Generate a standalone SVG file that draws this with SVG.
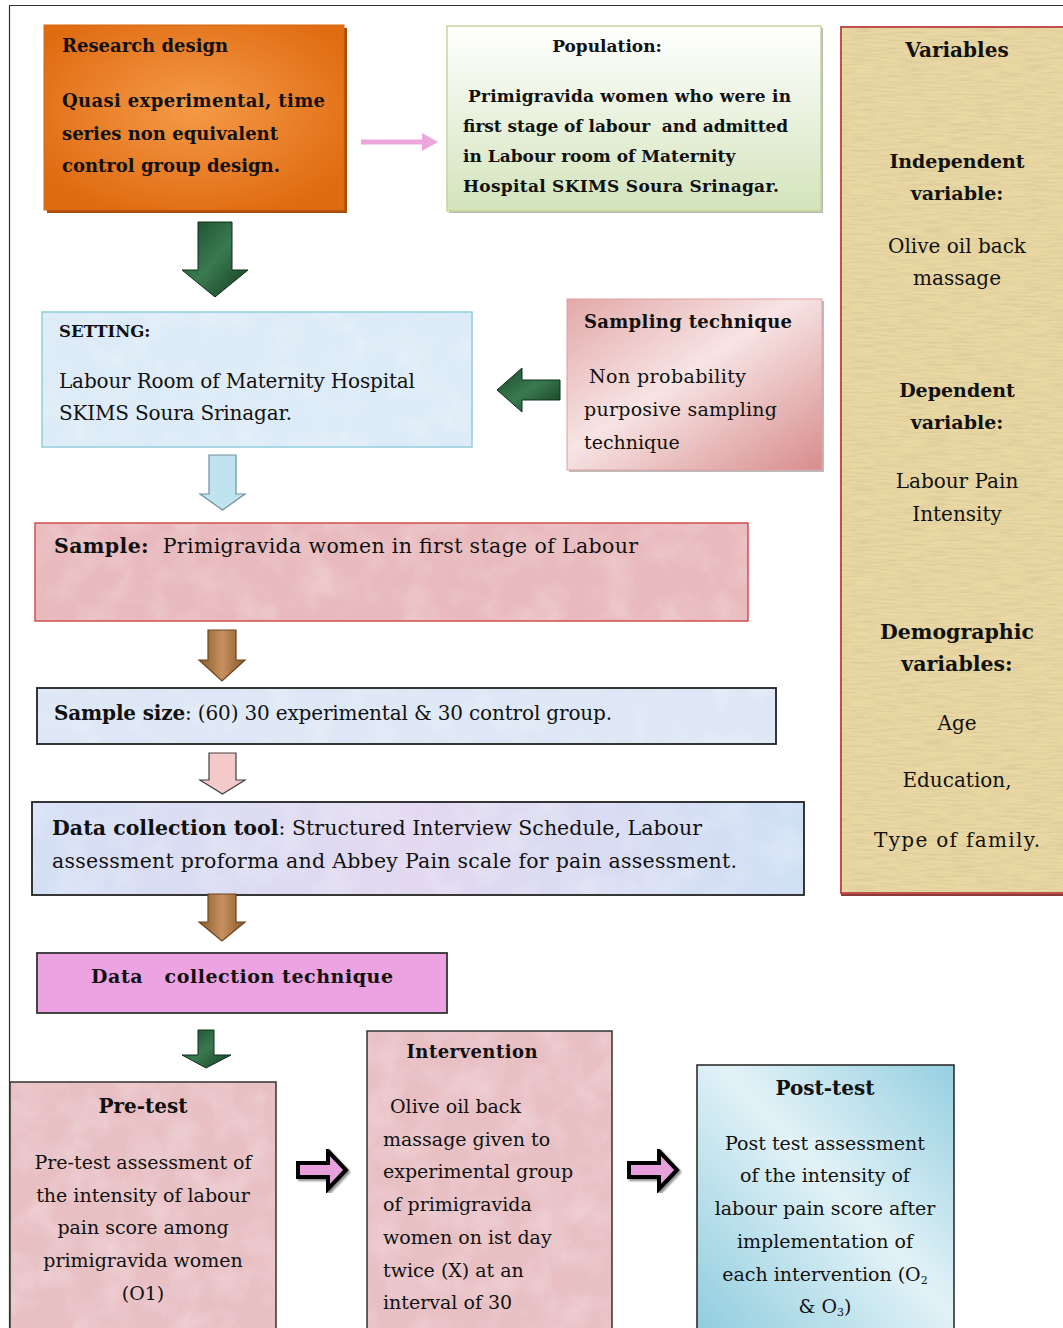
<svg xmlns="http://www.w3.org/2000/svg" width="1063" height="1328" viewBox="0 0 1063 1328">
<style>
text{font-family:"DejaVu Serif","Liberation Serif",serif;fill:#111;}
.b{font-weight:bold;}
.t17{font-size:17px;}
.t18{font-size:18px;}
.t19{font-size:19px;}
.t20{font-size:20px;}
.c{text-anchor:middle;}
</style>
<defs>
<radialGradient id="gOrange" cx="0.5" cy="0.45" r="0.6">
<stop offset="0" stop-color="#f59a48"/><stop offset="1" stop-color="#e06c12"/>
</radialGradient>
<linearGradient id="gGreen" x1="0" y1="0" x2="0" y2="1">
<stop offset="0" stop-color="#ffffff"/><stop offset="1" stop-color="#d3e4bc"/>
</linearGradient>
<linearGradient id="gSamp" x1="0" y1="0" x2="1" y2="1">
<stop offset="0" stop-color="#e3a8a8"/><stop offset="0.45" stop-color="#f7e4e4"/><stop offset="1" stop-color="#d88c8c"/>
</linearGradient>
<linearGradient id="gPost" x1="1" y1="0" x2="0" y2="1">
<stop offset="0" stop-color="#95cfe0"/><stop offset="0.45" stop-color="#e2f2f7"/><stop offset="1" stop-color="#8ccbdd"/>
</linearGradient>
<linearGradient id="gTool" x1="0" y1="0" x2="1" y2="0">
<stop offset="0" stop-color="#d5e0f5"/><stop offset="0.5" stop-color="#e2d8f0"/><stop offset="1" stop-color="#cfe0f5"/>
</linearGradient>
<linearGradient id="gDkGreen" x1="0" y1="0" x2="1" y2="1">
<stop offset="0" stop-color="#1a4a2a"/><stop offset="0.5" stop-color="#3a7a50"/><stop offset="1" stop-color="#123a20"/>
</linearGradient>
<linearGradient id="gBrown" x1="0" y1="0" x2="1" y2="0">
<stop offset="0" stop-color="#8a5a2a"/><stop offset="0.5" stop-color="#c89060"/><stop offset="1" stop-color="#8a5a2a"/>
</linearGradient>
<filter id="noise" x="0" y="0" width="100%" height="100%">
<feTurbulence type="fractalNoise" baseFrequency="0.04 0.5" numOctaves="3" seed="3"/>
<feColorMatrix type="matrix" values="0 0 0 0 0.5  0 0 0 0 0.4  0 0 0 0 0.2  0 0 0 1.2 -0.45"/>
</filter>
<filter id="marble" x="0" y="0" width="100%" height="100%">
<feTurbulence type="fractalNoise" baseFrequency="0.03" numOctaves="4" seed="7"/>
<feColorMatrix type="matrix" values="0 0 0 0 1  0 0 0 0 1  0 0 0 0 1  0 0 0 1.4 -0.55"/>
</filter>
<filter id="shadow" x="-5%" y="-5%" width="115%" height="115%">
<feDropShadow dx="2" dy="2" stdDeviation="1" flood-color="#000" flood-opacity="0.45"/>
</filter>
</defs>

<rect width="1063" height="1328" fill="#ffffff"/>
<path d="M9.5,1328 V5.5 H1063" fill="none" stroke="#333" stroke-width="1.2"/>

<g id="research-design">
<rect x="47" y="28" width="300" height="185" fill="#a84c0a"/>
<rect x="44" y="25" width="300" height="185" fill="url(#gOrange)" stroke="#d8660e" stroke-width="1"/>
<text class="b t18" x="62" y="52">Research design</text>
<text class="b t18" x="62" y="107" textLength="263">Quasi experimental, time</text>
<text class="b t18" x="62" y="140">series non equivalent</text>
<text class="b t18" x="62" y="172">control group design.</text>
</g>

<g id="population">
<rect x="449" y="28" width="374" height="185" fill="#b8b8b8"/>
<rect x="447" y="26" width="374" height="185" fill="url(#gGreen)" stroke="#c3d69b" stroke-width="1.5"/>
<text class="b t17 c" x="607" y="52">Population:</text>
<text class="b t17" x="468" y="102" textLength="323">Primigravida women who were in</text>
<text class="b t17" x="463" y="132" textLength="325" xml:space="preserve">first stage of labour  and admitted</text>
<text class="b t17" x="463" y="162">in Labour room of Maternity</text>
<text class="b t17" x="463" y="192" textLength="316">Hospital SKIMS Soura Srinagar.</text>
</g>

<g id="variables">
<rect x="841" y="27" width="240" height="869" fill="#8a3a3a"/>
<rect x="841" y="27" width="240" height="866" fill="#e9d8a4" stroke="#c0504d" stroke-width="2"/>
<rect x="842" y="28" width="230" height="864" filter="url(#noise)" opacity="0.5"/>
<text class="b c" style="font-size:20px" x="957" y="57">Variables</text>
<text class="b t19 c" x="957" y="168">Independent</text>
<text class="b t19 c" x="957" y="200">variable:</text>
<text class="t20 c" x="957" y="253">Olive oil back</text>
<text class="t20 c" x="957" y="285">massage</text>
<text class="b t19 c" x="957" y="397">Dependent</text>
<text class="b t19 c" x="957" y="429">variable:</text>
<text class="t20 c" x="957" y="488">Labour Pain</text>
<text class="t20 c" x="957" y="521">Intensity</text>
<text class="b c" style="font-size:20.5px" x="957" y="639">Demographic</text>
<text class="b c" style="font-size:20.5px" x="957" y="671">variables:</text>
<text class="t20 c" x="957" y="730">Age</text>
<text class="t20 c" x="957" y="787">Education,</text>
<text class="t20 c" x="957" y="847" textLength="166">Type of family.</text>
</g>

<g id="setting">
<rect x="42" y="312" width="430" height="135" fill="#dcebf7" stroke="#93cddd" stroke-width="1.5"/>
<rect x="43" y="313" width="428" height="133" filter="url(#marble)" opacity="0.35"/>
<text class="b" style="font-size:16.5px" x="59" y="337">SETTING:</text>
<text class="t20" x="59" y="388" textLength="356">Labour Room of Maternity Hospital</text>
<text class="t20" x="59" y="420" textLength="233">SKIMS Soura Srinagar.</text>
</g>

<g id="sampling-technique">
<rect x="569" y="301" width="255" height="171" fill="#bbbbbb"/>
<rect x="567" y="299" width="255" height="171" fill="url(#gSamp)" stroke="#e0a0a0" stroke-width="1"/>
<text class="b t18" x="584" y="328" textLength="208">Sampling technique</text>
<text class="t19" x="589" y="383" textLength="157">Non probability</text>
<text class="t19" x="584" y="416" textLength="193">purposive sampling</text>
<text class="t19" x="584" y="449">technique</text>
</g>

<g id="sample">
<rect x="35" y="523" width="713" height="98" fill="#e8b9bd" stroke="#d24f4f" stroke-width="1.5"/>
<rect x="36" y="524" width="711" height="96" filter="url(#marble)" opacity="0.35"/>
<text style="font-size:20.5px" x="54" y="553" textLength="584" xml:space="preserve"><tspan class="b">Sample:</tspan>  Primigravida women in first stage of Labour</text>
</g>

<g id="sample-size">
<rect x="37" y="688" width="739" height="56" fill="#dde7f5" stroke="#222" stroke-width="1.8"/>
<rect x="38" y="689" width="737" height="54" filter="url(#marble)" opacity="0.3"/>
<text class="t20" x="54" y="720" textLength="558"><tspan class="b">Sample size</tspan>: (60) 30 experimental &amp; 30 control group.</text>
</g>

<g id="data-collection-tool">
<rect x="32" y="802" width="772" height="93" fill="url(#gTool)" stroke="#222" stroke-width="1.8"/>
<rect x="33" y="803" width="770" height="91" filter="url(#marble)" opacity="0.35"/>
<text style="font-size:20.5px" x="52" y="835" textLength="650"><tspan class="b">Data collection tool</tspan>: Structured Interview Schedule, Labour</text>
<text style="font-size:20.5px" x="52" y="868" textLength="685">assessment proforma and Abbey Pain scale for pain assessment.</text>
</g>

<g id="data-collection-technique">
<rect x="37" y="953" width="410" height="60" fill="#eda3e1" stroke="#333" stroke-width="1.8"/>
<text class="b t19" x="91" y="983" textLength="302" xml:space="preserve">Data   collection technique</text>
</g>

<g id="pre-test">
<rect x="10" y="1082" width="266" height="260" fill="#e8c0c4" stroke="#333" stroke-width="1.5"/>
<rect x="11" y="1083" width="264" height="245" filter="url(#marble)" opacity="0.35"/>
<text class="b t20 c" x="143" y="1113">Pre-test</text>
<text class="t19 c" x="143" y="1169">Pre-test assessment of</text>
<text class="t19 c" x="143" y="1202">the intensity of labour</text>
<text class="t19 c" x="143" y="1234">pain score among</text>
<text class="t19 c" x="143" y="1267">primigravida women</text>
<text class="t19 c" x="143" y="1300">(O1)</text>
</g>

<g id="intervention">
<rect x="367" y="1031" width="245" height="310" fill="#e8c0c4" stroke="#333" stroke-width="1.5"/>
<rect x="368" y="1032" width="243" height="296" filter="url(#marble)" opacity="0.35"/>
<text class="b t18 c" x="472" y="1058" textLength="131">Intervention</text>
<text class="t19" x="390" y="1113">Olive oil back</text>
<text class="t19" x="383" y="1146">massage given to</text>
<text class="t19" x="383" y="1178">experimental group</text>
<text class="t19" x="383" y="1211">of primigravida</text>
<text class="t19" x="383" y="1244">women on ist day</text>
<text class="t19" x="383" y="1277">twice (X) at an</text>
<text class="t19" x="383" y="1309">interval of 30</text>
</g>

<g id="post-test">
<rect x="697" y="1065" width="257" height="280" fill="url(#gPost)" stroke="#222" stroke-width="1.5"/>
<text class="b t20 c" x="825" y="1095">Post-test</text>
<text class="t19 c" x="825" y="1150">Post test assessment</text>
<text class="t19 c" x="825" y="1182">of the intensity of</text>
<text class="t19 c" x="825" y="1215">labour pain score after</text>
<text class="t19 c" x="825" y="1248">implementation of</text>
<text class="t19 c" x="825" y="1281">each intervention (O<tspan style="font-size:11px" dy="3">2</tspan></text>
<text class="t19 c" x="825" y="1313">&amp; O<tspan style="font-size:11px" dy="3">3</tspan><tspan dy="-3">)</tspan></text>
</g>

<g id="connectors">
<line x1="361" y1="142" x2="425" y2="142" stroke="#eca6dc" stroke-width="5"/>
<polygon points="422,133 438,142 422,151" fill="#eca6dc"/>
<path d="M198,222 H232 V270 H248 L215,297 L182,270 H198 Z" fill="url(#gDkGreen)" stroke="#0f2f1a" stroke-width="1"/>
<path d="M560,380 V400 H522 V412 L497,390 L522,368 V380 Z" fill="url(#gDkGreen)" stroke="#0f2f1a" stroke-width="1"/>
<path d="M209,455 H236 V494 H245 L222.5,510 L200,494 H209 Z" fill="#bfe3ef" stroke="#6f8f9c" stroke-width="1.2"/>
<path d="M208,630 H236 V660 H245 L222,681 L199,660 H208 Z" fill="url(#gBrown)" stroke="#6a4420" stroke-width="1.2"/>
<path d="M209,753 H236 V780 H245 L222.5,794 L200,780 H209 Z" fill="#f4c9c9" stroke="#404040" stroke-width="1.2"/>
<path d="M208,894 H236 V922 H245 L222,941 L199,922 H208 Z" fill="url(#gBrown)" stroke="#6a4420" stroke-width="1.2"/>
<path d="M198,1030 H214 V1055 H231 L206,1068 L182,1055 H198 Z" fill="url(#gDkGreen)" stroke="#0f2f1a" stroke-width="1"/>
<path d="M298,1163 H328 V1151 L346,1170 L328,1189 V1177 H298 Z" fill="#e8a0dc" stroke="#000" stroke-width="4" stroke-linejoin="miter" filter="url(#shadow)"/>
<path d="M629,1163 H659 V1151 L677,1170 L659,1189 V1177 H629 Z" fill="#e8a0dc" stroke="#000" stroke-width="4" stroke-linejoin="miter" filter="url(#shadow)"/>
</g>
</svg>
